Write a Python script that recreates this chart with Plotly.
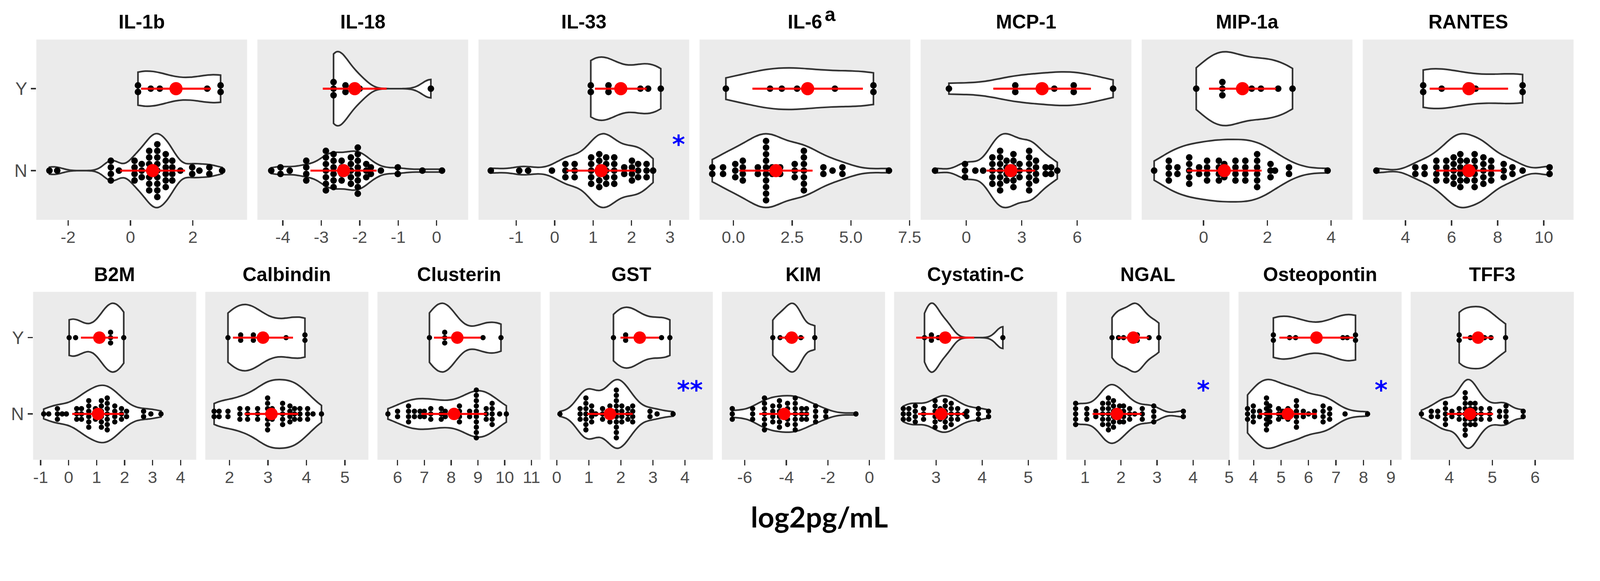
import numpy as np
import plotly.graph_objects as go

W, H = 4373, 1488

# ---------------- data (dot-stack positions and counts, log2 pg/mL) ----------------
TITLES = ["IL-1b", "IL-18", "IL-33", "IL-6", "MCP-1", "MIP-1a", "RANTES",
          "B2M", "Calbindin", "Clusterin", "GST", "KIM", "Cystatin-C", "NGAL",
          "Osteopontin", "TFF3"]

IL1B_N_POS = [-2.6, -2.35, -0.63, -0.37, 0.13, 0.36, 0.60, 0.86, 1.13, 1.34, 1.60, 1.98, 2.21, 2.53, 2.94]
IL1B_N_CNT = [1, 1, 4, 1, 4, 3, 7, 9, 6, 4, 1, 2, 1, 2, 1]
IL1B_Y_POS = [0.24, 0.65, 0.94, 2.46, 2.89]
IL1B_Y_CNT = [2, 1, 1, 1, 2]

IL18_N_POS = [-4.30, -4.06, -3.82, -3.39, -2.88, -2.68, -2.47, -2.23, -2.05, -1.83, -1.71, -1.45, -1.01, -0.37, 0.14]
IL18_N_CNT = [1, 2, 1, 4, 7, 6, 4, 5, 8, 3, 2, 1, 2, 1, 1]
IL18_Y_POS = [-2.68, -2.37, -2.0, -0.15]
IL18_Y_CNT = [3, 2, 1, 1]

IL33_N_POS = [-1.66, -0.92, -0.69, -0.07, 0.28, 0.52, 0.95, 1.16, 1.34, 1.55, 1.81, 2.01, 2.17, 2.39, 2.56]
IL33_N_CNT = [1, 1, 1, 1, 3, 3, 5, 6, 5, 5, 2, 4, 3, 3, 1]
IL33_Y_POS = [0.94, 1.40, 2.23, 2.43, 2.76]
IL33_Y_CNT = [2, 2, 1, 1, 1]

IL6_N_POS = [-0.90, -0.44, 0.08, 0.40, 1.04, 1.39, 1.65, 1.99, 2.61, 3.00, 3.83, 4.22, 4.64, 6.62]
IL6_N_CNT = [2, 2, 3, 4, 2, 10, 2, 2, 3, 7, 2, 1, 2, 1]
IL6_Y_POS = [-0.32, 1.56, 2.06, 2.71, 4.32, 5.96]
IL6_Y_CNT = [1, 1, 1, 1, 1, 2]

MCP1_N_POS = [-1.69, -0.07, 0.49, 0.91, 1.41, 1.83, 2.18, 2.55, 2.88, 3.40, 3.77, 4.29, 4.59, 4.92]
MCP1_N_CNT = [1, 3, 1, 1, 5, 7, 4, 6, 3, 7, 4, 2, 2, 1]
MCP1_Y_POS = [-0.94, 2.65, 4.76, 5.81, 7.94]
MCP1_Y_CNT = [1, 2, 1, 2, 1]

MIP1A_N_POS = [-1.55, -1.09, -0.82, -0.45, -0.14, 0.11, 0.48, 0.65, 1.00, 1.31, 1.68, 2.10, 2.24, 2.68, 3.89]
MIP1A_N_CNT = [1, 4, 2, 5, 2, 4, 4, 3, 4, 4, 6, 3, 1, 2, 1]
MIP1A_Y_POS = [-0.23, 0.59, 1.51, 1.80, 2.34, 2.79]
MIP1A_Y_CNT = [1, 3, 1, 1, 1, 1]

RANTES_N_POS = [2.74, 4.43, 4.83, 5.34, 5.77, 6.09, 6.38, 6.66, 7.00, 7.38, 7.72, 8.26, 8.64, 9.08, 10.25]
RANTES_N_CNT = [1, 2, 2, 4, 4, 5, 6, 4, 6, 5, 4, 3, 2, 1, 2]
RANTES_Y_POS = [4.77, 5.57, 7.04, 9.08]
RANTES_Y_CNT = [2, 1, 1, 2]

B2M_N_POS = [-0.89, -0.71, -0.40, -0.23, -0.08, 0.29, 0.46, 0.72, 0.96, 1.17, 1.38, 1.65, 1.89, 2.07, 2.68, 2.94, 3.30]
B2M_N_CNT = [1, 1, 3, 1, 1, 3, 3, 6, 3, 6, 7, 4, 3, 2, 2, 1, 1]
B2M_Y_POS = [0.02, 0.25, 1.50, 1.97]
B2M_Y_CNT = [1, 1, 3, 1]

CALB_N_POS = [1.60, 1.73, 1.96, 2.27, 2.47, 2.73, 2.99, 3.11, 3.38, 3.57, 3.69, 3.83, 4.03, 4.17, 4.39]
CALB_N_CNT = [2, 2, 2, 3, 3, 3, 7, 3, 5, 4, 3, 3, 3, 1, 1]
CALB_Y_POS = [1.96, 2.29, 2.62, 3.47, 3.96]
CALB_Y_CNT = [1, 2, 2, 1, 2]

CLUS_N_POS = [5.64, 6.00, 6.41, 6.63, 6.84, 7.00, 7.24, 7.63, 7.78, 8.31, 8.69, 8.94, 9.31, 9.53, 9.81, 10.06]
CLUS_N_CNT = [1, 2, 4, 2, 2, 2, 3, 3, 2, 4, 2, 10, 3, 5, 1, 1]
CLUS_Y_POS = [7.19, 7.76, 9.19, 9.86]
CLUS_Y_CNT = [1, 3, 1, 1]

GST_N_POS = [0.10, 0.73, 0.91, 1.09, 1.22, 1.43, 1.66, 1.86, 2.03, 2.22, 2.37, 2.91, 3.13, 3.63]
GST_N_CNT = [1, 3, 7, 4, 1, 3, 4, 10, 4, 3, 4, 2, 1, 1]
GST_Y_POS = [1.77, 2.15, 2.59, 3.27, 3.53]
GST_Y_CNT = [1, 2, 1, 1, 1]

KIM_N_POS = [-6.60, -5.62, -5.05, -4.65, -4.33, -3.94, -3.57, -3.26, -3.03, -2.59, -2.10, -0.65]
KIM_N_CNT = [3, 3, 7, 4, 6, 5, 7, 3, 3, 4, 2, 1]
KIM_Y_POS = [-4.65, -4.30, -3.95, -3.75, -3.55, -3.30, -2.63]
KIM_Y_CNT = [1, 1, 1, 1, 1, 1, 1]

CYSC_N_POS = [2.29, 2.41, 2.55, 2.73, 2.98, 3.09, 3.20, 3.33, 3.47, 3.62, 3.67, 3.92, 4.14]
CYSC_N_CNT = [3, 3, 4, 3, 6, 3, 6, 5, 3, 1, 2, 3, 2]
CYSC_Y_POS = [2.75, 2.90, 3.05, 3.25, 4.45]
CYSC_Y_CNT = [1, 2, 1, 1, 1]

NGAL_N_POS = [0.74, 1.05, 1.30, 1.49, 1.65, 1.79, 1.96, 2.07, 2.24, 2.38, 2.59, 2.91, 3.73]
NGAL_N_CNT = [5, 3, 2, 5, 7, 6, 4, 4, 3, 1, 3, 4, 2]
NGAL_Y_POS = [1.75, 1.93, 2.07, 2.35, 2.45, 2.78, 3.05]
NGAL_Y_CNT = [1, 1, 1, 1, 2, 1, 1]

OPN_N_POS = [3.78, 3.99, 4.22, 4.47, 4.59, 4.91, 5.06, 5.25, 5.56, 5.81, 6.00, 6.22, 6.53, 6.77, 7.33, 8.15]
OPN_N_CNT = [3, 4, 2, 7, 4, 3, 2, 3, 6, 2, 1, 2, 4, 3, 1, 1]
OPN_Y_POS = [4.72, 5.31, 5.53, 7.25, 7.41, 7.71]
OPN_Y_CNT = [2, 1, 1, 1, 1, 2]

TFF3_N_POS = [3.35, 3.58, 3.73, 3.91, 4.06, 4.23, 4.37, 4.49, 4.60, 4.74, 4.94, 5.17, 5.32, 5.72]
TFF3_N_CNT = [1, 2, 2, 5, 2, 3, 9, 5, 5, 3, 3, 2, 4, 2]
TFF3_Y_POS = [4.23, 4.49, 4.67, 4.82, 4.97, 5.31]
TFF3_Y_CNT = [2, 1, 1, 1, 1, 1]

# mean and SD (red point-ranges)
N_MEAN = [0.71, -2.42, 1.21, 1.81, 2.41, 0.65, 6.75, 1.05, 3.09, 8.11, 1.66, -4.10, 3.11, 1.89, 5.25, 4.48]
N_SD = [1.04, 0.86, 0.90, 1.56, 1.31, 1.17, 1.42, 0.92, 0.70, 1.22, 0.71, 1.20, 0.50, 0.68, 1.05, 0.54]
Y_MEAN = [1.46, -2.13, 1.72, 3.16, 4.10, 1.22, 6.75, 1.10, 2.87, 8.23, 2.59, -3.74, 3.20, 2.34, 6.29, 4.67]
Y_SD = [1.12, 0.83, 0.67, 2.35, 2.64, 1.05, 1.70, 0.66, 0.78, 0.87, 0.60, 0.60, 0.63, 0.43, 1.35, 0.36]

# axis ticks
TICKS = [[-2, 0, 2], [-4, -3, -2, -1, 0], [-1, 0, 1, 2, 3], [0, 2.5, 5, 7.5], [0, 3, 6],
         [0, 2, 4], [4, 6, 8, 10], [-1, 0, 1, 2, 3, 4], [2, 3, 4, 5], [6, 7, 8, 9, 10, 11],
         [0, 1, 2, 3, 4], [-6, -4, -2, 0], [3, 4, 5], [1, 2, 3, 4, 5], [4, 5, 6, 7, 8, 9], [4, 5, 6]]

# significance marks: panel index, text, x (data), y (category scale)
STAR_PANEL = [2, 10, 13, 14]
STAR_TEXT = ["*", "**", "*", "*"]
STAR_X = [3.23, 4.15, 4.29, 8.65]
STAR_Y = [1.38, 1.38, 1.38, 1.38]

# ---------------- layout config ----------------
XRANGES = [[-3.02, 3.74], [-4.66, 0.82], [-1.98, 3.50], [-1.44, 7.53], [-2.47, 8.93],
           [-1.94, 4.67], [2.15, 11.29], [-1.27, 4.56], [1.37, 5.61], [5.25, 11.34],
           [-0.22, 4.87], [-7.10, 0.75], [2.09, 5.63], [0.48, 5.01], [3.45, 9.39], [3.10, 6.90]]

GROUPS_N = [(IL1B_N_POS, IL1B_N_CNT), (IL18_N_POS, IL18_N_CNT), (IL33_N_POS, IL33_N_CNT),
            (IL6_N_POS, IL6_N_CNT), (MCP1_N_POS, MCP1_N_CNT), (MIP1A_N_POS, MIP1A_N_CNT),
            (RANTES_N_POS, RANTES_N_CNT), (B2M_N_POS, B2M_N_CNT), (CALB_N_POS, CALB_N_CNT),
            (CLUS_N_POS, CLUS_N_CNT), (GST_N_POS, GST_N_CNT), (KIM_N_POS, KIM_N_CNT),
            (CYSC_N_POS, CYSC_N_CNT), (NGAL_N_POS, NGAL_N_CNT), (OPN_N_POS, OPN_N_CNT),
            (TFF3_N_POS, TFF3_N_CNT)]
GROUPS_Y = [(IL1B_Y_POS, IL1B_Y_CNT), (IL18_Y_POS, IL18_Y_CNT), (IL33_Y_POS, IL33_Y_CNT),
            (IL6_Y_POS, IL6_Y_CNT), (MCP1_Y_POS, MCP1_Y_CNT), (MIP1A_Y_POS, MIP1A_Y_CNT),
            (RANTES_Y_POS, RANTES_Y_CNT), (B2M_Y_POS, B2M_Y_CNT), (CALB_Y_POS, CALB_Y_CNT),
            (CLUS_Y_POS, CLUS_Y_CNT), (GST_Y_POS, GST_Y_CNT), (KIM_Y_POS, KIM_Y_CNT),
            (CYSC_Y_POS, CYSC_Y_CNT), (NGAL_Y_POS, NGAL_Y_CNT), (OPN_Y_POS, OPN_Y_CNT),
            (TFF3_Y_POS, TFF3_Y_CNT)]

YR = [0.4, 2.6]
TOP = dict(x0=100, step=608.4, w=580, y0=108, y1=601, dot=18, mean=36)
BOT = dict(x0=91, step=473.9, w=449, y0=798, y1=1257, dot=14.5, mean=34)

TICK_FONT = dict(family="Liberation Sans", size=46, color="#4D4D4D")
TITLE_FONT = dict(family="Liberation Sans", size=53, color="black", weight="bold")
STAR_FONT = dict(family="DejaVu Sans", size=68, color="#0000FF", weight="bold")


def expand(pos, cnt):
    return np.repeat(np.asarray(pos, float), np.asarray(cnt, int))


def bw_nrd0(x):
    sd = np.std(x, ddof=1)
    iqr = np.subtract(*np.percentile(x, [75, 25]))
    lo = min(sd, iqr / 1.34) if iqr > 0 else sd
    return 0.9 * lo * len(x) ** (-0.2)


def max_density(x, bw):
    g = np.linspace(x.min(), x.max(), 512)
    d = np.exp(-0.5 * ((g[:, None] - x[None, :]) / bw) ** 2).sum(1) / (len(x) * bw * np.sqrt(2 * np.pi))
    return d.max()


fig = go.Figure()
annotations = []

for i, title in enumerate(TITLES):
    row = TOP if i < 7 else BOT
    col = i if i < 7 else i - 7
    ax = "" if i == 0 else str(i + 1)
    xa, ya = "x" + ax, "y" + ax
    px0 = row["x0"] + row["step"] * col
    px1 = px0 + row["w"]
    dom_x = [px0 / W, px1 / W]
    dom_y = [1 - row["y1"] / H, 1 - row["y0"] / H]
    px_per_unit_y = (row["y1"] - row["y0"]) / (YR[1] - YR[0])
    dy = row["dot"] / px_per_unit_y

    groups = [(1, GROUPS_N[i], N_MEAN[i], N_SD[i]), (2, GROUPS_Y[i], Y_MEAN[i], Y_SD[i])]
    vals = [expand(*g[1]) for g in groups]
    bws = [bw_nrd0(v) for v in vals]
    mds = [max_density(v, b) for v, b in zip(vals, bws)]
    mmax = max(mds)

    # violins
    for (cat, _, _, _), v, b, md in zip(groups, vals, bws, mds):
        fig.add_trace(go.Violin(
            x=v, y0=cat, orientation="h", xaxis=xa, yaxis=ya,
            width=0.9 * md / mmax, scalemode="width", spanmode="hard", bandwidth=b,
            points=False, box_visible=False, meanline_visible=False,
            fillcolor="white", line=dict(color="#333333", width=4.5),
            showlegend=False, hoverinfo="skip"))

    # dot stacks (centered)
    for cat, (pos, cnt), _, _ in groups:
        dx, dyy = [], []
        for p, c in zip(pos, cnt):
            for k in range(c):
                dx.append(p)
                dyy.append(cat + (k - (c - 1) / 2) * dy)
        fig.add_trace(go.Scatter(x=dx, y=dyy, mode="markers", xaxis=xa, yaxis=ya,
                                 marker=dict(color="black", size=row["dot"], line=dict(width=0)),
                                 showlegend=False, hoverinfo="skip"))

    # mean +/- sd
    for cat, _, m, s in groups:
        fig.add_trace(go.Scatter(x=[m - s, m + s], y=[cat, cat], mode="lines", xaxis=xa, yaxis=ya,
                                 line=dict(color="red", width=5.5), showlegend=False, hoverinfo="skip"))
        fig.add_trace(go.Scatter(x=[m], y=[cat], mode="markers", xaxis=xa, yaxis=ya,
                                 marker=dict(color="red", size=row["mean"], line=dict(width=0)),
                                 showlegend=False, hoverinfo="skip"))

    ticks = TICKS[i]
    if any(float(t) != int(t) for t in ticks):
        ttext = [f"{t:.1f}" for t in ticks]
    else:
        ttext = [str(int(t)) for t in ticks]

    fig.layout["xaxis" + ax] = dict(
        domain=dom_x, anchor=ya, range=XRANGES[i], tickvals=ticks, ticktext=ttext,
        showgrid=False, zeroline=False, showline=False, ticks="outside", ticklen=15,
        tickwidth=3.5, tickcolor="#333333", tickfont=TICK_FONT, ticklabelstandoff=-8,
        fixedrange=True)
    first = (i == 0 or i == 7)
    fig.layout["yaxis" + ax] = dict(
        domain=dom_y, anchor=xa, range=YR, type="linear", tickvals=[1, 2], ticktext=["N", "Y"],
        showticklabels=first, ticks="outside" if first else "", ticklen=14, tickwidth=3.5,
        tickcolor="#333333", tickfont=dict(family="Liberation Sans", size=49, color="#4D4D4D"),
        showgrid=False, zeroline=False, showline=False, fixedrange=True)
    # grey panel
    fig.add_shape(type="rect", xref=xa + " domain", yref=ya + " domain", x0=0, x1=1, y0=0, y1=1,
                  fillcolor="#EBEBEB", line=dict(width=0), layer="below")
    # panel title
    annotations.append(dict(text=title, xref="paper", yref="paper", x=(px0 + px1) / 2 / W,
                            y=1 - (row["y0"] - 48) / H, xanchor="center", yanchor="middle",
                            showarrow=False, font=TITLE_FONT))

for p, t, sx, sy in zip(STAR_PANEL, STAR_TEXT, STAR_X, STAR_Y):
    ax = "" if p == 0 else str(p + 1)
    annotations.append(dict(text=t, xref="x" + ax, yref="y" + ax, x=sx, y=sy, xanchor="center",
                            yanchor="middle", yshift=-14, showarrow=False, font=STAR_FONT))

# superscript "a" on IL-6
annotations.append(dict(text="a", xref="paper", yref="paper", x=2285 / W, y=1 - 40 / H,
                        xanchor="center", yanchor="middle", showarrow=False, font=TITLE_FONT))
# common x title
annotations.append(dict(text="log2pg/mL", xref="paper", yref="paper", x=2255 / W, y=1 - 1412 / H,
                        xanchor="center", yanchor="middle", showarrow=False,
                        font=dict(family="Lato", size=78, color="black", weight="bold")))

fig.update_layout(width=W, height=H, margin=dict(l=0, r=0, t=0, b=0),
                  paper_bgcolor="white", plot_bgcolor="rgba(0,0,0,0)",
                  violinmode="overlay", annotations=annotations, showlegend=False)

POST = ("document.body.style.margin='0';document.body.style.overflow='hidden';"
        "var gd=document.getElementById('{plot_id}');"
        "var s=Math.min(window.innerWidth/%d, window.innerHeight/%d);"
        "gd.style.transformOrigin='0 0';gd.style.transform='scale('+s+')';" % (W, H))

fig.write_html("out.html", config={"displayModeBar": False, "staticPlot": True}, post_script=POST)
